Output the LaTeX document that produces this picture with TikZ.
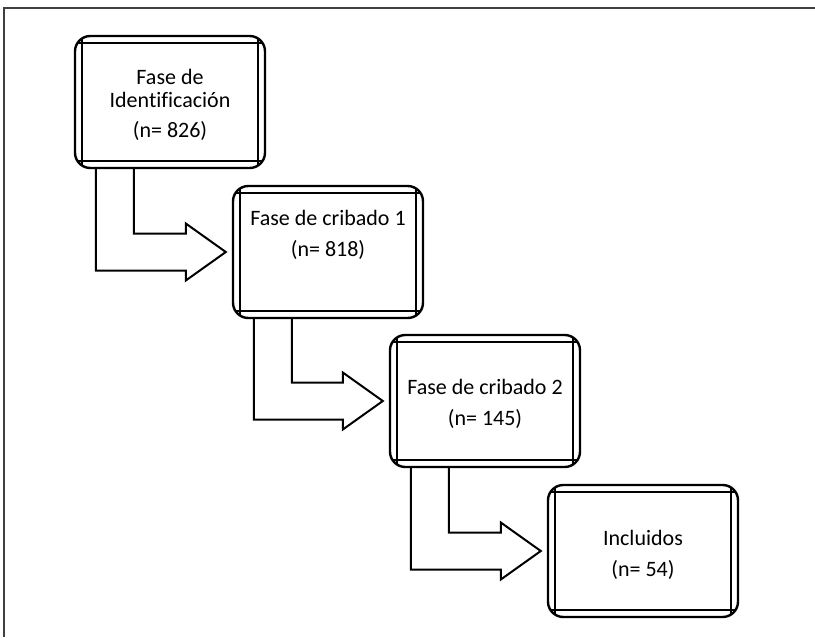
\documentclass[tikz,border=0pt]{standalone}
\usepackage{fontspec}
\setmainfont{Carlito}[Ligatures=NoCommon]
\usetikzlibrary{calc}
\tikzset{stage/.style = {shape=rectangle, draw, rounded corners=11.5pt, line width=1.8pt,
    minimum width=142.5pt, minimum height=99pt,
    path picture={
        \draw[line width=1.3pt, sharp corners]
            ([xshift=5pt]path picture bounding box.north west) -- ([xshift=5pt]path picture bounding box.south west)
            ([xshift=-5pt]path picture bounding box.north east) -- ([xshift=-5pt]path picture bounding box.south east)
            ([yshift=-5pt]path picture bounding box.north west) -- ([yshift=-5pt]path picture bounding box.north east)
            ([yshift=5pt]path picture bounding box.south west) -- ([yshift=5pt]path picture bounding box.south east);
    }}}
\tikzset{stagetext/.style = {anchor=north, inner sep=0pt, align=center,
    font=\fontsize{16.5pt}{17.5pt}\selectfont}}
\tikzset{flow/.style = {line width=1.5pt, line join=miter}}
\tikzset{frame/.style = {line width=1pt, black!75}}

\begin{document}
\begin{tikzpicture}[x=0.75pt, y=-0.75pt]
            \useasboundingbox (0,0) rectangle (815,637);
            \draw[frame] (4,637) -- (4,8) -- (815,8);

            % Boxes
            \node[stage] (b1) at (170,102) {};
            \node[stage] (b2) at (328,252) {};
            \node[stage] (b3) at (485,401) {};
            \node[stage] (b4) at (643,551) {};

            % Texts
            \node[stagetext] (t1) at ($(b1.north)+(0,34)$) {Fase de\\Identificación\\[5pt](n= 826)};
            \node[stagetext] (t2) at ($(b2.north)+(0,25)$) {Fase de cribado 1\\[6pt](n= 818)};
            \node[stagetext] (t3) at ($(b3.north)+(0,45)$) {Fase de cribado 2\\[6pt](n= 145)};
            \node[stagetext] (t4) at ($(b4.north)+(0,46)$) {Incluidos\\[6pt](n= 54)};

            % Arrows
            \draw[flow] ($(b1.south west)+(22,0)$) |- ($(b2.west)+(-46,18.5)$) -- ++(0,10)
                -- ($(b2.west)+(-6,0)$) -- ($(b2.west)+(-46,-28.5)$) -- ++(0,10)
                -| ($(b1.south west)+(60,0)$);
            \draw[flow] ($(b2.south west)+(22,0)$) |- ($(b3.west)+(-46,18.5)$) -- ++(0,10)
                -- ($(b3.west)+(-6,0)$) -- ($(b3.west)+(-46,-28.5)$) -- ++(0,10)
                -| ($(b2.south west)+(60,0)$);
            \draw[flow] ($(b3.south west)+(22,0)$) |- ($(b4.west)+(-46,18.5)$) -- ++(0,10)
                -- ($(b4.west)+(-6,0)$) -- ($(b4.west)+(-46,-28.5)$) -- ++(0,10)
                -| ($(b3.south west)+(60,0)$);
        \end{tikzpicture}
\end{document}
